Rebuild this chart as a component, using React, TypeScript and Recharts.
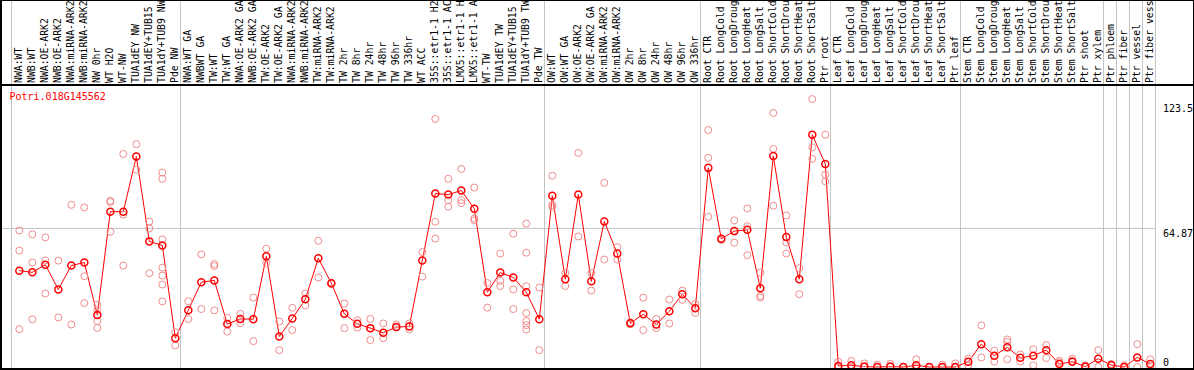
import { ComposedChart, Line, Scatter, XAxis, YAxis, ReferenceLine } from 'recharts';

const W = 1194;
const H = 370;
const MONO = '"DejaVu Sans Mono", "Liberation Mono", monospace';

const title = 'Potri.018G145562';

// labels as printed on the chart (cut to 14 characters)
const categories = [
  'NWA:WT', 'NWB:WT', 'NWA:OE-ARK2', 'NWB:OE-ARK2', 'NWA:miRNA-ARK2', 'NWB:miRNA-ARK2',
  'NW 0hr', 'WT H2O', 'WT-NW', 'TUA1dEY NW', 'TUA1dEY+TUB15', 'TUA1dY+TUB9 NW', 'Pde NW',
  'NWA:WT GA', 'NWBWT GA', 'TW:WT', 'TW:WT GA', 'NWA:OE-ARK2 GA', 'NWB:OE-ARK2 GA',
  'TW:OE-ARK2', 'TW:OE-ARK2 GA', 'NWA:miRNA-ARK2', 'NWB:miRNA-ARK2', 'TW:miRNA-ARK2',
  'TW:miRNA-ARK2', 'TW 2hr', 'TW 8hr', 'TW 24hr', 'TW 48hr', 'TW 96hr', 'TW 336hr',
  'WT ACC', '35S::etr1-1 H2', '35S::etr1-1 AC', 'LMX5::etr1-1 H', 'LMX5::etr1-1 A',
  'WT-TW', 'TUA1dEY TW', 'TUA1dEY+TUB15', 'TUA1dY+TUB9 TW', 'Pde TW',
  'OW:WT', 'OW:WT GA', 'OW:OE-ARK2', 'OW:OE-ARK2 GA', 'OW:miRNA-ARK2', 'OW:miRNA-ARK2',
  'OW 2hr', 'OW 8hr', 'OW 24hr', 'OW 48hr', 'OW 96hr', 'OW 336hr',
  'Root CTR', 'Root LongCold', 'Root LongDroug', 'Root LongHeat', 'Root LongSalt',
  'Root ShortCold', 'Root ShortDrou', 'Root ShortHeat', 'Root ShortSalt', 'Ptr root',
  'Leaf CTR', 'Leaf LongCold', 'Leaf LongDroug', 'Leaf LongHeat', 'Leaf LongSalt',
  'Leaf ShortCold', 'Leaf ShortDrou', 'Leaf ShortHeat', 'Leaf ShortSalt', 'Ptr leaf',
  'Stem CTR', 'Stem LongCold', 'Stem LongDroug', 'Stem LongHeat', 'Stem LongSalt',
  'Stem ShortCold', 'Stem ShortDrou', 'Stem ShortHeat', 'Stem ShortSalt', 'Ptr shoot',
  'Ptr xylem', 'Ptr phloem', 'Ptr fiber', 'Ptr vessel', 'Ptr fiber vess',
];

const means = [
  45.1, 44.3, 47.9, 36.3, 47.5, 48.9, 24.3, 72.7, 72.7, 98.5, 58.8, 56.9, 13.5,
  26.6, 39.7, 40.5, 20.1, 22.5, 22.4, 51.8, 14.3, 22.7, 31.7, 50.9, 39.2, 24.9, 20.2,
  18.2, 16.0, 18.7, 19.0, 49.8, 81.2, 80.7, 82.6, 74.1, 35.0, 44.2, 41.9, 35.0, 22.4,
  80.1, 41.1, 80.7, 40.1, 68.1, 53.1, 20.5, 24.7, 19.9, 26.1, 34.1, 27.5,
  93.2, 60.0, 63.6, 64.2, 36.9, 98.8, 60.8, 41.1, 108.7, 95.0,
  0.5, 0.8, 0.2, 0, 0.2, 0, 0.8, 0, 0, 0,
  2.5, 10.7, 5.3, 9.2, 4.3, 5.3, 7.9, 1.4, 2.5, 0.2, 3.9, 0.9, 0, 4.5, 1.4,
];

const replicates = [
  [63.9, 54.5, 17.7], [62.1, 48.9, 22.3], [60.7, 49.9, 34.4], [49.8, 23.2], [75.9, 19.9],
  [74.7, 42.5, 29.9], [29.1, 26.6, 21.5, 18.3], [77.8, 77.2, 63.3], [99.7, 71.3, 47.5],
  [104.3, 92.4], [68.1, 64.9, 43.9], [91.0, 88.1, 59.7, 46.5, 42.8, 38.6, 30.7], [16.2, 10.1],
  [30.8, 22.4], [52.7, 27.1], [48.2, 47.3, 26.5], [23.0, 16.6], [24.9, 20.5], [32.5, 12.1],
  [55.4, 48.7], [21.3, 7.9], [27.7, 17.3], [34.4, 28.8], [59.1, 41.9], [39.5, 38.9],
  [29.7, 18.2], [21.9, 18.5], [22.5, 18.2, 12.6], [20.4, 13.5], [19.9, 18.5], [20.4, 17.6],
  [53.8, 42.3], [116.1, 68.0, 60.1], [88.1, 78.1, 75.0], [92.7, 78.1, 76.7], [84.0, 69.5, 68.7],
  [39.3, 27.8], [53.1, 40.3, 37.9], [62.4, 36.3, 27.1], [67.1, 53.5, 37.8, 25.2, 21.5, 19.6, 17.6],
  [37.2, 7.9], [89.5, 75.9, 75.0], [44.0, 37.9], [100.2, 61.1], [44.0, 35.8], [86.2, 50.3],
  [56.1, 50.3], [21.0, 20.0], [32.5, 17.3], [22.5, 18.2], [31.6, 20.4], [35.8, 31.4], [29.5, 25.3],
  [110.9, 97.9, 70.3], [60.1, 59.4], [68.6, 58.2], [74.2, 65.9, 52.3], [44.2, 33.3, 32.5],
  [118.9, 102.1, 75.5], [70.9, 58.3, 53.1], [46.3, 34.1], [125.4, 102.8, 97.4], [108.7, 90.1, 86.9],
  [2.5, 0], [2.9, 0], [1.7, 0], [1.1, 0], [1.5, 0], [0, 0], [3.6, 0], [0, 0], [1.1, 0], [1.7, 0],
  [3.9, 0.8], [19.5, 4.5], [7.6, 2.5], [12.9, 11.7, 3.6], [5.9, 2.6], [8.3, 0.8], [10.3, 4.2],
  [2.9, 2.2], [3.9, 2.9], [0.8, 0], [7.9, 0], [1.4, 0.8], [0.8, 0], [10.7, 0], [3.6, 0],
];

// last category index of each block (0 = left edge)
const groupEnds = [0, 13, 41, 53, 63, 73, 84, 85, 86, 87, 88];
const yTicks = [0, 64.87, 123.5];

const rows = categories.map((name, k) => ({ i: k + 1, name, mean: means[k] }));
const repPoints = replicates.flatMap((vals, k) => vals.map((v) => ({ i: k + 1, v })));
const xTicks = rows.map((r) => r.i);

const GRID = '#c4c4c4';

function Ring({ cx, cy, color, w }: { cx: number; cy: number; color: string; w: number }) {
  return <circle cx={cx} cy={cy} r={3.5} fill="none" stroke={color} strokeWidth={w} />;
}

const CatTick = (p: any) => {
  const name = categories[Number(p.payload.value) - 1];
  const x = p.x - 0.5;
  const y = 83;
  return (
    <text
      x={x} y={y} transform={`rotate(-90, ${x}, ${y})`}
      textAnchor="start" dominantBaseline="central"
      fontSize={9.8} fontFamily={MONO} fill="#000"
    >
      {name}
    </text>
  );
};

const ValTick = (p: any) => (
  <text x={p.x + 7} y={Math.min(p.y + 8.5, 366)} textAnchor="start" fontSize={10} fontFamily={MONO} fill="#000">
    {String(p.payload.value)}
  </text>
);

export default function App() {
  return (
    <div style={{ position: 'absolute', left: 0, top: 0, width: W, height: H, background: '#fff' }}>
      <ComposedChart width={W} height={H} data={rows} margin={{ top: 0, right: 0, bottom: 1, left: 1 }}>
        <XAxis
          type="number" dataKey="i" orientation="top" height={1}
          domain={[-0.41, 88.44]} ticks={xTicks} interval={0}
          axisLine={false} tickLine={false} tick={CatTick} allowDataOverflow
        />
        <YAxis
          orientation="right" width={38} type="number"
          domain={[-0.93, 171.3]} ticks={yTicks} interval={0}
          axisLine={false} tickLine={false} tickSize={0} tickMargin={0}
          tick={ValTick} allowDataOverflow
        />
        {groupEnds.map((k) => (
          <ReferenceLine key={k} x={k + 0.4} stroke={GRID} strokeWidth={1} />
        ))}
        <ReferenceLine y={64.87} stroke={GRID} strokeWidth={1} />
        <Scatter
          data={repPoints} dataKey="v" isAnimationActive={false}
          shape={(s: any) => <Ring cx={s.cx} cy={s.cy} color="#f08c8c" w={1} />}
        />
        <Line
          dataKey="mean" stroke="#ff0000" strokeWidth={1} isAnimationActive={false}
          dot={(d: any) => <Ring key={d.index} cx={d.cx} cy={d.cy} color="#ff0000" w={1.5} />}
          activeDot={false}
        />
      </ComposedChart>
      <svg width={W} height={H} style={{ position: 'absolute', left: 0, top: 0, pointerEvents: 'none' }}>
        <line x1={0} y1={0.5} x2={W} y2={0.5} stroke="#000" strokeWidth={1} />
        <line x1={0} y1={85} x2={W} y2={85} stroke="#000" strokeWidth={2} />
        <line x1={0} y1={369} x2={W} y2={369} stroke="#000" strokeWidth={2} />
        <line x1={1} y1={0} x2={1} y2={H} stroke="#000" strokeWidth={2} />
        <line x1={W - 0.5} y1={0} x2={W - 0.5} y2={H} stroke="#000" strokeWidth={1} />
        <text x={9.5} y={100} fontSize={10} fontFamily={MONO} fill="#ff0000">{title}</text>
      </svg>
    </div>
  );
}
